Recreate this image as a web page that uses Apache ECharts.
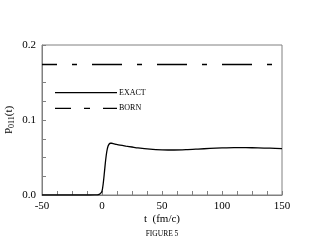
<!DOCTYPE html>
<html><head><meta charset="utf-8">
<script src="https://cdn.jsdelivr.net/npm/echarts@6/dist/echarts.min.js"></script>
<style>html,body{margin:0;padding:0;background:#fff}#c{width:320px;height:245px}</style>
</head><body><div id="c"></div>
<script>
const exactT = [-50,-20,-10,-6,-4,-3,-2,-1,0,1,2,3,4,5,6,7,8,10,12,15,20,25,30,40,50,60,70,80,90,100,110,120,130,140,150];
const exactP = [0,0,0,0.0001,0.0003,0.0006,0.0012,0.0025,0.005,0.015,0.030,0.046,0.058,0.065,0.068,0.069,0.0690,0.0683,0.0675,0.0665,0.0652,0.0640,0.0628,0.0612,0.0603,0.0600,0.0604,0.0612,0.0621,0.0628,0.0632,0.0631,0.0628,0.0624,0.0619];
const bornT = [-50,150];
const bornP = [0.174,0.174];
const xTicks = [-50,0,50,100,150];
const yTicks = [0.0,0.1,0.2];
const names = ['EXACT','BORN'];

const font = 'Liberation Serif';
const axisGray = '#808080';
const chart = echarts.init(document.getElementById('c'));
chart.setOption({
  animation:false,
  title:{text:'FIGURE 5',left:157,top:225,textAlign:'center',textStyle:{fontFamily:font,fontSize:7.5,fontWeight:'normal',color:'#000'}},
  grid:{left:42,right:38,top:45,bottom:50,show:true,borderColor:axisGray,borderWidth:1,outerBoundsMode:'none',containLabel:false},
  graphic:[
    {type:'line',shape:{x1:55,y1:92.7,x2:117,y2:92.7},style:{stroke:'#000',lineWidth:1.3}},
    {type:'text',x:119,y:92.7,style:{text:names[0],font:'8px "Liberation Serif"',fill:'#000',verticalAlign:'middle'}},
    {type:'line',shape:{x1:55,y1:108.3,x2:117,y2:108.3},style:{stroke:'#000',lineWidth:1.3,lineDash:[16,13,6,13]}},
    {type:'text',x:119,y:108.3,style:{text:names[1],font:'8px "Liberation Serif"',fill:'#000',verticalAlign:'middle'}}
  ],
  xAxis:{
    type:'value',min:xTicks[0],max:xTicks[xTicks.length-1],interval:50,
    name:'t  (fm/c)',nameLocation:'middle',nameGap:19,nameMoveOverlap:false,
    nameTextStyle:{fontFamily:font,fontSize:11,color:'#000'},
    axisLine:{onZero:false,lineStyle:{color:axisGray,width:1}},
    axisTick:{inside:true,length:4,lineStyle:{color:axisGray}},
    minorTick:{show:true,splitNumber:4,length:4,lineStyle:{color:axisGray}},
    splitLine:{show:false},
    axisLabel:{margin:6,fontFamily:font,fontSize:11,color:'#000',
      formatter:v=>xTicks.includes(v)?String(v):''}
  },
  yAxis:{
    type:'value',min:yTicks[0],max:yTicks[yTicks.length-1],interval:0.1,
    name:'{p|P}{s|011}{p|(t)}',nameLocation:'middle',nameGap:26,nameRotate:90,nameMoveOverlap:false,
    nameTextStyle:{fontFamily:font,color:'#000',rich:{
      p:{fontFamily:font,fontSize:11,color:'#000',lineHeight:14},
      s:{fontFamily:font,fontSize:8,color:'#000',lineHeight:14,verticalAlign:'bottom',padding:[6,0,0,0]}
    }},
    axisLine:{show:true,onZero:false,lineStyle:{color:axisGray,width:1}},
    axisTick:{show:true,inside:true,length:4,lineStyle:{color:axisGray}},
    minorTick:{show:true,splitNumber:4,length:4,lineStyle:{color:axisGray}},
    splitLine:{show:false},
    axisLabel:{margin:6,fontFamily:font,fontSize:11,color:'#000',formatter:v=>v.toFixed(1)}
  },
  series:[
    {name:names[0],type:'line',showSymbol:false,symbol:'none',smooth:0.3,
     data:exactT.map((t,i)=>[t,exactP[i]]),lineStyle:{color:'#000',width:1.3}},
    {name:names[1],type:'line',showSymbol:false,symbol:'none',
     data:bornT.map((t,i)=>[t,bornP[i]]),lineStyle:{color:'#000',width:1.3,type:[15,15,5,15,15,0]}}
  ]
});
</script></body></html>
